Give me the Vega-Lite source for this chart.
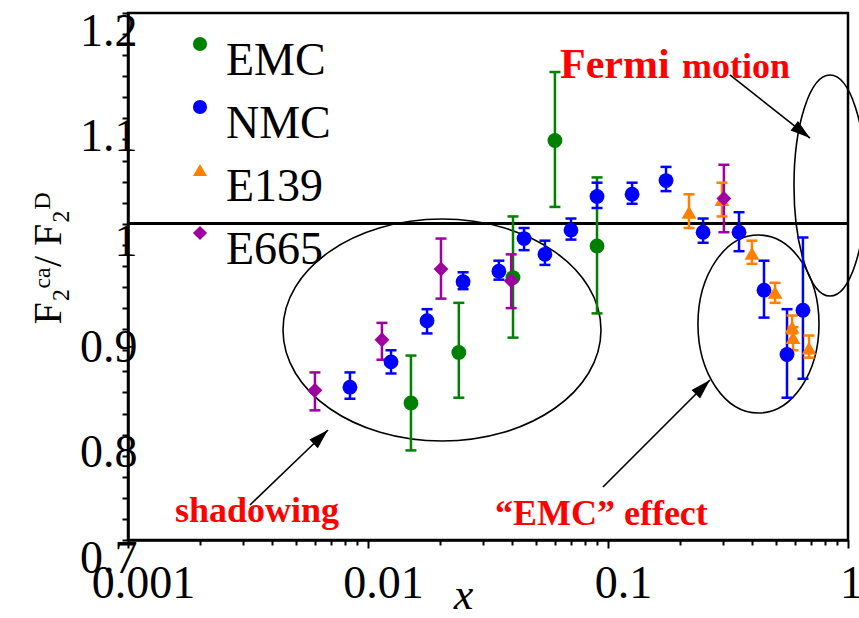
{
  "$schema": "https://vega.github.io/schema/vega-lite/v6.json",
  "width": 720,
  "height": 527,
  "autosize": {"type": "none"},
  "padding": {"left": 128, "top": 13, "right": 11, "bottom": 78},
  "background": "white",
  "config": {
    "font": "Liberation Serif",
    "view": {"stroke": "black", "strokeWidth": 2.5},
    "axis": {"grid": false, "domainColor": "black", "domainWidth": 2.5, "tickColor": "black", "tickWidth": 2, "labelColor": "black", "titleColor": "black", "labelOverlap": false, "labelFlush": false, "labelBound": false},
    "legend": {"title": null, "orient": "none", "legendX": 49, "legendY": 8, "padding": 0, "labelFont": "Liberation Serif", "labelFontSize": 46, "labelColor": "black", "labelBaseline": "middle", "labelOffset": 3, "symbolSize": 200, "symbolStrokeWidth": 0, "rowPadding": 0, "symbolOpacity": 1}
  },
  "datasets": {
    "pts": [
      {"series": "EMC", "x": 0.0151, "y": 0.830, "lo": 0.785, "hi": 0.875},
      {"series": "EMC", "x": 0.0239, "y": 0.878, "lo": 0.835, "hi": 0.925},
      {"series": "EMC", "x": 0.0402, "y": 0.949, "lo": 0.892, "hi": 1.007},
      {"series": "EMC", "x": 0.0601, "y": 1.079, "lo": 1.016, "hi": 1.144},
      {"series": "EMC", "x": 0.0900, "y": 0.979, "lo": 0.915, "hi": 1.044},
      {"series": "NMC", "x": 0.00841, "y": 0.845, "lo": 0.834, "hi": 0.859},
      {"series": "NMC", "x": 0.01247, "y": 0.869, "lo": 0.858, "hi": 0.880},
      {"series": "NMC", "x": 0.01762, "y": 0.908, "lo": 0.896, "hi": 0.919},
      {"series": "NMC", "x": 0.0249, "y": 0.945, "lo": 0.938, "hi": 0.954},
      {"series": "NMC", "x": 0.0351, "y": 0.955, "lo": 0.947, "hi": 0.965},
      {"series": "NMC", "x": 0.0447, "y": 0.986, "lo": 0.975, "hi": 0.996},
      {"series": "NMC", "x": 0.0546, "y": 0.971, "lo": 0.961, "hi": 0.984},
      {"series": "NMC", "x": 0.0701, "y": 0.994, "lo": 0.985, "hi": 1.005},
      {"series": "NMC", "x": 0.0900, "y": 1.026, "lo": 1.015, "hi": 1.039},
      {"series": "NMC", "x": 0.126, "y": 1.028, "lo": 1.019, "hi": 1.039},
      {"series": "NMC", "x": 0.1745, "y": 1.041, "lo": 1.031, "hi": 1.054},
      {"series": "NMC", "x": 0.249, "y": 0.992, "lo": 0.982, "hi": 1.005},
      {"series": "NMC", "x": 0.3515, "y": 0.992, "lo": 0.974, "hi": 1.011},
      {"series": "NMC", "x": 0.4467, "y": 0.937, "lo": 0.911, "hi": 0.965},
      {"series": "NMC", "x": 0.557, "y": 0.876, "lo": 0.835, "hi": 0.919},
      {"series": "NMC", "x": 0.649, "y": 0.918, "lo": 0.853, "hi": 0.987},
      {"series": "E139", "x": 0.2175, "y": 1.011, "lo": 0.996, "hi": 1.028},
      {"series": "E139", "x": 0.2985, "y": 1.023, "lo": 1.007, "hi": 1.039},
      {"series": "E139", "x": 0.398, "y": 0.972, "lo": 0.962, "hi": 0.984},
      {"series": "E139", "x": 0.4966, "y": 0.935, "lo": 0.925, "hi": 0.944},
      {"series": "E139", "x": 0.585, "y": 0.902, "lo": 0.896, "hi": 0.913},
      {"series": "E139", "x": 0.59, "y": 0.892, "lo": 0.880, "hi": 0.902},
      {"series": "E139", "x": 0.688, "y": 0.882, "lo": 0.873, "hi": 0.894},
      {"series": "E665", "x": 0.00601, "y": 0.842, "lo": 0.823, "hi": 0.859},
      {"series": "E665", "x": 0.01143, "y": 0.890, "lo": 0.871, "hi": 0.906},
      {"series": "E665", "x": 0.02014, "y": 0.957, "lo": 0.929, "hi": 0.986},
      {"series": "E665", "x": 0.0395, "y": 0.946, "lo": 0.920, "hi": 0.971},
      {"series": "E665", "x": 0.304, "y": 1.024, "lo": 0.992, "hi": 1.056}
    ],
    "arrows": [
      {"name": "shadowing", "x0": 0.003223, "y0": 0.7332, "x1": 0.006813, "y1": 0.8044},
      {"name": "emc", "x0": 0.0953, "y0": 0.7503, "x1": 0.266, "y1": 0.8518},
      {"name": "fermi", "x0": 0.322, "y0": 1.1412, "x1": 0.6946, "y1": 1.0814}
    ],
    "notes": [
      {"label": "Fermi", "x": 0.0631, "y": 1.1383},
      {"label": "motion", "x": 0.2034, "y": 1.1383},
      {"label": "shadowing", "x": 0.00157, "y": 0.7171},
      {"label": "“EMC” effect", "x": 0.0338, "y": 0.7142}
    ]
  },
  "data": {"name": "pts"},
  "encoding": {
    "x": {
      "type": "quantitative",
      "scale": {"type": "log", "domain": [0.001, 1], "nice": false},
      "axis": {
        "title": "x",
        "titleFont": "Liberation Serif",
        "titleFontStyle": "italic",
        "titleFontWeight": "normal",
        "titleFontSize": 44,
        "titleBaseline": "alphabetic",
        "titleX": 335,
        "titleY": 68,
        "titleAlign": "center",
        "values": [0.001,0.002,0.003,0.004,0.005,0.006,0.007,0.008,0.009,0.01,0.02,0.03,0.04,0.05,0.06,0.07,0.08,0.09,0.1,0.2,0.3,0.4,0.5,0.6,0.7,0.8,0.9,1],
        "labelExpr": "datum.value == 0.001 ? '0.001' : datum.value == 0.01 ? '0.01' : datum.value == 0.1 ? '0.1' : datum.value == 1 ? '1' : ''",
        "labelFontSize": 46,
        "labelBaseline": "alphabetic",
        "labelAlign": "center",
        "labelPadding": 49,
        "labelOffset": {"condition": {"test": "datum.value == 1", "value": 3}, "value": 15},
        "tickSize": {"condition": {"test": "datum.value == 0.001 || datum.value == 0.01 || datum.value == 0.1 || datum.value == 1", "value": 8}, "value": 5}
      }
    },
    "y": {
      "type": "quantitative",
      "scale": {"domain": [0.7, 1.2], "nice": false, "zero": false},
      "axis": {
        "title": "F₂ᶜᵃ/ F₂ᴰ",
        "titleFont": "Liberation Serif",
        "titleFontWeight": "normal",
        "titleFontSize": 40,
        "titleBaseline": "alphabetic",
        "titleAlign": "center",
        "titleAngle": -90,
        "titleX": -68,
        "titleY": 245,
        "values": [0.7,0.72,0.74,0.76,0.78,0.8,0.82,0.84,0.86,0.88,0.9,0.92,0.94,0.96,0.98,1.0,1.02,1.04,1.06,1.08,1.1,1.12,1.14,1.16,1.18,1.2],
        "labelExpr": "abs(datum.value*10 - round(datum.value*10)) < 0.001 ? (abs(datum.value - 1) < 0.001 ? '1' : format(datum.value, '.1f')) : ''",
        "labelFontSize": 46,
        "labelBaseline": "alphabetic",
        "labelAlign": "right",
        "labelPadding": -15,
        "labelOffset": 32,
        "tickSize": 6
      }
    }
  },
  "layer": [
    {
      "data": {"values": [{"x": 0.02034, "y": 0.8992}]},
      "mark": {"type": "point", "shape": "M 1 0 C 1 0.3855 0.5523 0.698 0 0.698 C -0.5523 0.698 -1 0.3855 -1 0 C -1 -0.3855 -0.5523 -0.698 0 -0.698 C 0.5523 -0.698 1 -0.3855 1 0 Z", "size": 101124, "filled": false, "stroke": "black", "strokeWidth": 1.6, "opacity": 1},
      "encoding": {"x": {"field": "x"}, "y": {"field": "y"}}
    },
    {
      "data": {"values": [{"x": 0.4236, "y": 0.9049}]},
      "mark": {"type": "point", "shape": "M 0.68 0 C 0.68 0.5523 0.3756 1 0 1 C -0.3756 1 -0.68 0.5523 -0.68 0 C -0.68 -0.5523 -0.3756 -1 0 -1 C 0.3756 -1 0.68 -0.5523 0.68 0 Z", "size": 31684, "filled": false, "stroke": "black", "strokeWidth": 1.6, "opacity": 1},
      "encoding": {"x": {"field": "x"}, "y": {"field": "y"}}
    },
    {
      "data": {"values": [{"x": 0.8414, "y": 1.0363}]},
      "mark": {"type": "point", "shape": "M 0.326 0 C 0.326 0.5523 0.18 1 0 1 C -0.18 1 -0.326 0.5523 -0.326 0 C -0.326 -0.5523 -0.18 -1 0 -1 C 0.18 -1 0.326 -0.5523 0.326 0 Z", "size": 48841, "filled": false, "stroke": "black", "strokeWidth": 1.6, "opacity": 1},
      "encoding": {"x": {"field": "x"}, "y": {"field": "y"}}
    },
    {
      "mark": {"type": "rule", "stroke": "black", "strokeWidth": 2},
      "encoding": {"x": null, "y": {"datum": 1}}
    },
    {
      "data": {"name": "arrows"},
      "mark": {"type": "rule", "stroke": "black", "strokeWidth": 1.6},
      "encoding": {"x": {"field": "x0"}, "y": {"field": "y0"}, "x2": {"field": "x1"}, "y2": {"field": "y1"}}
    },
    {
      "data": {"name": "arrows"},
      "transform": [{"filter": "datum.name == 'shadowing'"}],
      "mark": {"type": "point", "shape": "M 0 0 L 0.3 1 L -0.3 1 Z", "size": 1600, "filled": true, "fill": "black", "strokeWidth": 0, "opacity": 1, "angle": 46},
      "encoding": {"x": {"field": "x1"}, "y": {"field": "y1"}}
    },
    {
      "data": {"name": "arrows"},
      "transform": [{"filter": "datum.name == 'emc'"}],
      "mark": {"type": "point", "shape": "M 0 0 L 0.3 1 L -0.3 1 Z", "size": 1600, "filled": true, "fill": "black", "strokeWidth": 0, "opacity": 1, "angle": 45},
      "encoding": {"x": {"field": "x1"}, "y": {"field": "y1"}}
    },
    {
      "data": {"name": "arrows"},
      "transform": [{"filter": "datum.name == 'fermi'"}],
      "mark": {"type": "point", "shape": "M 0 0 L 0.3 1 L -0.3 1 Z", "size": 1600, "filled": true, "fill": "black", "strokeWidth": 0, "opacity": 1, "angle": 128},
      "encoding": {"x": {"field": "x1"}, "y": {"field": "y1"}}
    },
    {
      "mark": {"type": "rule", "strokeWidth": 2.5},
      "encoding": {
        "x": {"field": "x"},
        "y": {"field": "lo"},
        "y2": {"field": "hi"},
        "color": {"field": "series", "type": "nominal", "scale": {"domain": ["EMC", "NMC", "E139", "E665"], "range": ["#008000", "#0000ff", "#ff8000", "#a000a0"]},
          "legend": {"encode": {"labels": {"update": {"dy": {"value": 17}, "lineHeight": {"value": 28}}}}}}
      }
    },
    {
      "mark": {"type": "tick", "orient": "horizontal", "size": 11, "thickness": 2.5, "opacity": 1},
      "encoding": {
        "x": {"field": "x"},
        "y": {"field": "lo"},
        "color": {"field": "series", "type": "nominal", "legend": {"encode": {"labels": {"update": {"dy": {"value": 17}, "lineHeight": {"value": 28}}}}}}
      }
    },
    {
      "mark": {"type": "tick", "orient": "horizontal", "size": 11, "thickness": 2.5, "opacity": 1},
      "encoding": {
        "x": {"field": "x"},
        "y": {"field": "hi"},
        "color": {"field": "series", "type": "nominal", "legend": {"encode": {"labels": {"update": {"dy": {"value": 17}, "lineHeight": {"value": 28}}}}}}
      }
    },
    {
      "mark": {"type": "point", "filled": true, "opacity": 1, "size": 220},
      "encoding": {
        "x": {"field": "x"},
        "y": {"field": "y"},
        "color": {"field": "series", "type": "nominal", "legend": {"encode": {"labels": {"update": {"dy": {"value": 17}, "lineHeight": {"value": 28}}}}}},
        "shape": {"field": "series", "type": "nominal", "scale": {"domain": ["EMC", "NMC", "E139", "E665"], "range": ["circle", "circle", "triangle-up", "diamond"]}}
      }
    },
    {
      "data": {"name": "notes"},
      "transform": [{"filter": "datum.label == 'Fermi'"}],
      "mark": {"type": "text", "align": "left", "baseline": "alphabetic", "font": "Liberation Serif", "fontWeight": "bold", "fontSize": 42, "color": "#ff0000"},
      "encoding": {"x": {"field": "x"}, "y": {"field": "y"}, "text": {"field": "label"}}
    },
    {
      "data": {"name": "notes"},
      "transform": [{"filter": "datum.label != 'Fermi'"}],
      "mark": {"type": "text", "align": "left", "baseline": "alphabetic", "font": "Liberation Serif", "fontWeight": "bold", "fontSize": 36, "color": "#ff0000"},
      "encoding": {"x": {"field": "x"}, "y": {"field": "y"}, "text": {"field": "label"}}
    }
  ]
}
